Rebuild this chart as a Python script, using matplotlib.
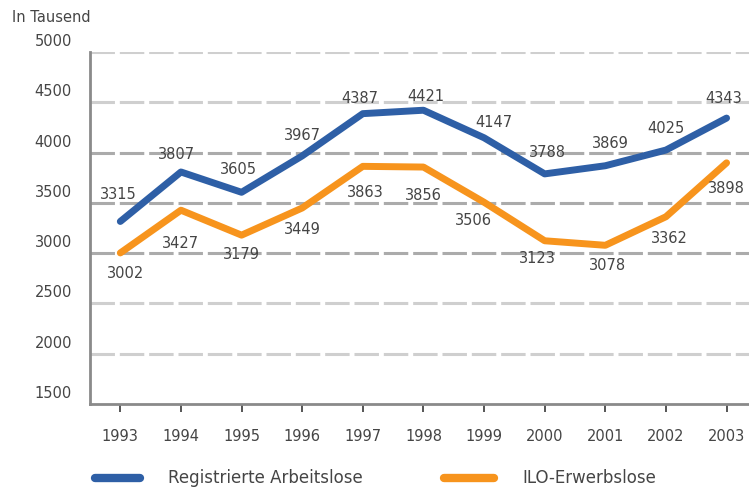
import matplotlib
matplotlib.use("Agg")
import matplotlib.pyplot as plt
import matplotlib.transforms as mtransforms
from matplotlib.lines import Line2D

# data (in Tausend)
years = [1993, 1994, 1995, 1996, 1997, 1998, 1999, 2000, 2001, 2002, 2003]
registriert = [3315, 3807, 3605, 3967, 4387, 4421, 4147, 3788, 3869, 4025, 4343]
ilo = [3002, 3427, 3179, 3449, 3863, 3856, 3506, 3123, 3078, 3362, 3898]
yticks = [1500, 2000, 2500, 3000, 3500, 4000, 4500, 5000]
series_names = ["Registrierte Arbeitslose", "ILO-Erwerbslose"]

# label offsets in pixels (dx, dy) - placement only
off_reg = [(-2, 27), (-4, 17), (-3, 23), (0, 20), (-3, 15), (2, 14), (10, 15), (3, 21), (5, 22), (0, 22), (-3, 20)]
off_ilo = [(5, -21), (0, -33), (0, -19), (0, -22), (2, -26), (0, -28), (-11, -18), (-7, -18), (2, -20), (3, -22), (0, -26)]

blue = "#2e5fa6"
orange = "#f7941d"
txt = "#454545"
px = 0.72  # points per pixel at 100 dpi

plt.rcParams['font.family'] = ['DejaVu Sans']

fig = plt.figure(figsize=(7.49, 4.90), dpi=100)
ax = fig.add_axes([90/749, 1 - 404/490, 1 - 90/749, 352/490])

# dashed gridlines (middle ones a bit darker like in the print)
for t in yticks[1:]:
    c = '#ababab' if 3000 <= t <= 4000 else '#cfcfcf'
    ax.axhline(t, color=c, lw=2.2, linestyle=(0, (8, 1.6)), zorder=1)

ax.plot(years, registriert, color=blue, lw=5, solid_capstyle='round', solid_joinstyle='round', zorder=3)
ax.plot(years, ilo, color=orange, lw=5, solid_capstyle='round', solid_joinstyle='round', zorder=3)

for x, y, (dx, dy) in zip(years, registriert, off_reg):
    ax.annotate(str(y), (x, y), xytext=(dx * px, dy * px), textcoords='offset points',
                ha='center', va='center', fontsize=10.5, color=txt, zorder=4)
for x, y, (dx, dy) in zip(years, ilo, off_ilo):
    ax.annotate(str(y), (x, y), xytext=(dx * px, dy * px), textcoords='offset points',
                ha='center', va='center', fontsize=10.5, color=txt, zorder=4)

ax.set_xlim(1992.5, 2003.37)
ax.set_ylim(1500, 5000)
ax.set_xticks(years)
ax.set_xticklabels([str(y) for y in years])
ax.set_yticks(yticks)
ax.set_yticklabels([str(y) for y in yticks])

for s in ['top', 'right']:
    ax.spines[s].set_visible(False)
for s in ['left', 'bottom']:
    ax.spines[s].set_color('#8a8a8a')
    ax.spines[s].set_linewidth(2)

ax.tick_params(axis='y', length=0, pad=13, labelsize=10.5, labelcolor=txt)
ax.tick_params(axis='x', length=6, width=1.4, color='#555555', direction='out', pad=12,
               labelsize=10.5, labelcolor=txt)

# y labels sit a little above their gridlines
shift = mtransforms.ScaledTranslation(0, 12/100, fig.dpi_scale_trans)
for lab in ax.get_yticklabels():
    lab.set_transform(lab.get_transform() + shift)

fig.text(12/749, 1 - 18/490, "In Tausend", fontsize=10.5, color=txt, va='center', ha='left')

# legend drawn by hand along the bottom
ly = 1 - 478/490
for (x0, x1, tx), c, name in zip([(95, 140, 168), (444, 494, 522)], [blue, orange], series_names):
    fig.add_artist(Line2D([x0/749, x1/749], [ly, ly], transform=fig.transFigure, color=c, lw=6,
                          solid_capstyle='round'))
    fig.text(tx/749, ly, name, fontsize=12, color=txt, va='center', ha='left')

fig.savefig("out.png", dpi=100)
